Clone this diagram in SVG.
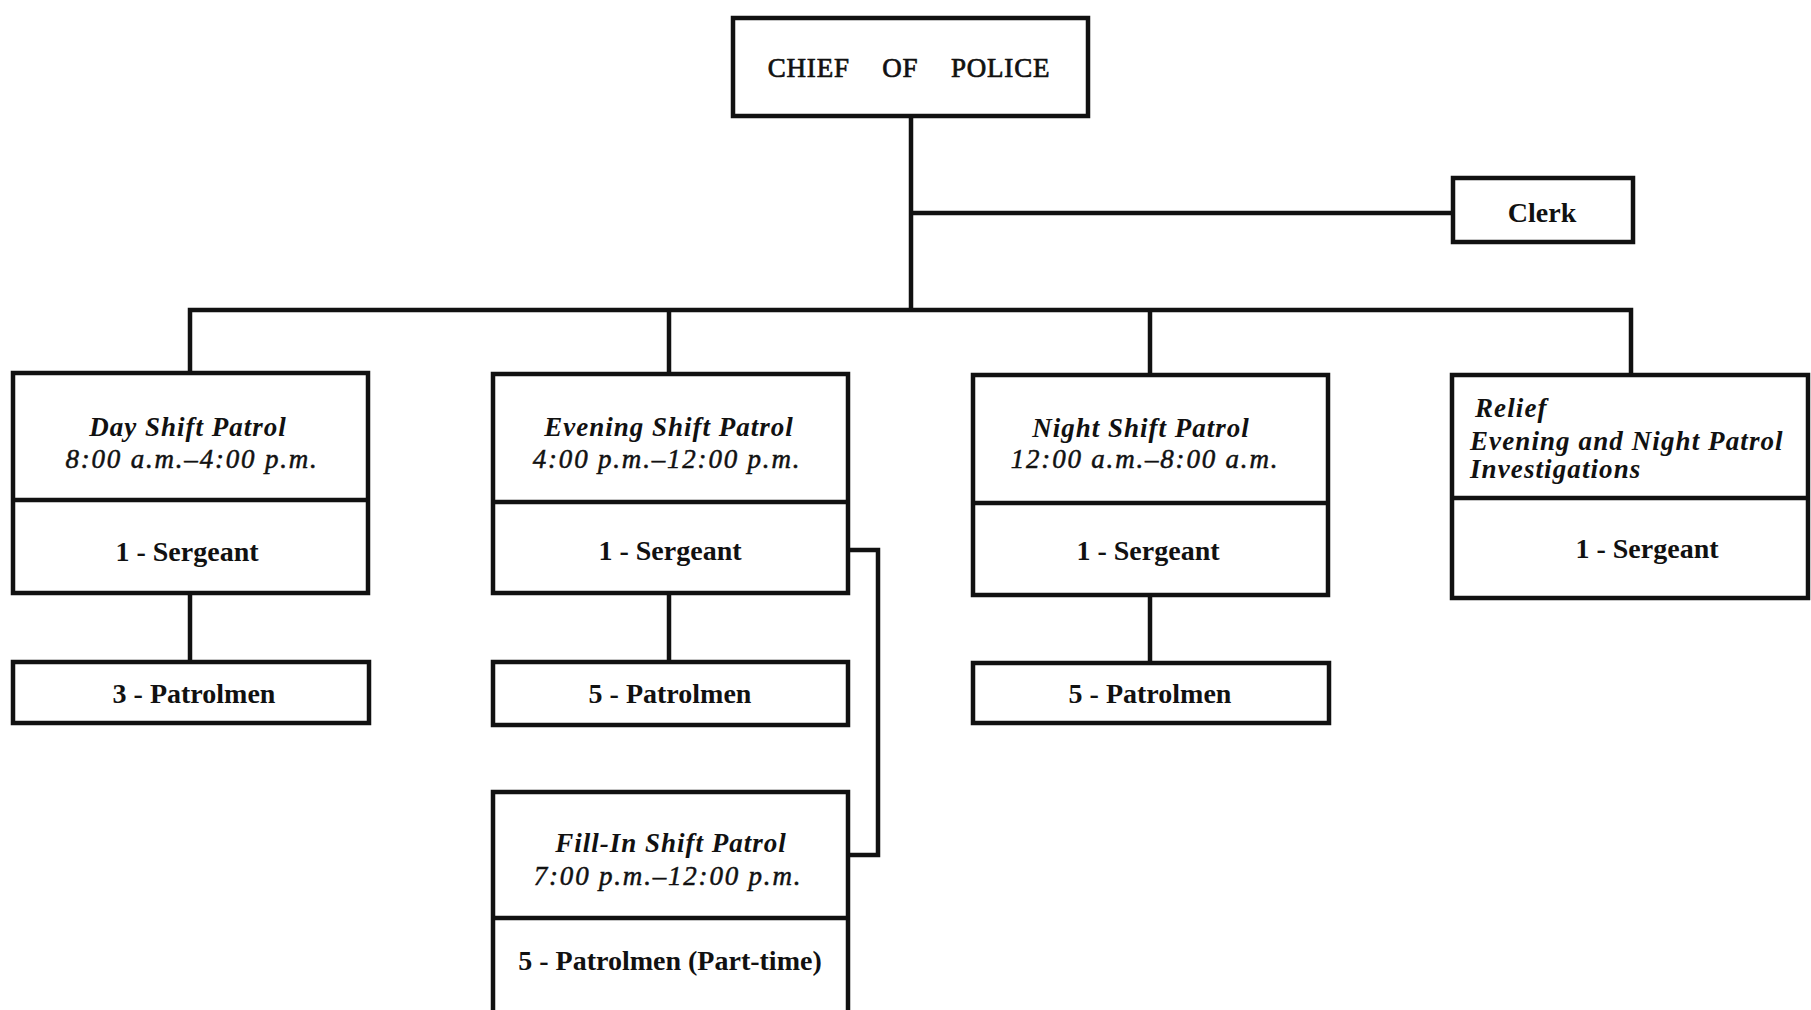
<svg xmlns="http://www.w3.org/2000/svg" width="1811" height="1010" viewBox="0 0 1811 1010">
<style>
.box{fill:#fff;stroke:#111;stroke-width:4.5}
.div{stroke:#111;stroke-width:4.5}
.con{fill:none;stroke:#111;stroke-width:4.5}
.b{font-family:"Liberation Serif",serif;font-weight:bold;font-size:28px;fill:#111;text-anchor:middle}
.i{font-family:"Liberation Serif",serif;font-weight:bold;font-style:italic;font-size:27px;fill:#111;text-anchor:middle;letter-spacing:1px}
.r{font-family:"Liberation Serif",serif;font-weight:bold;font-style:italic;font-size:27px;fill:#111;text-anchor:start;letter-spacing:1.1px}
.t{font-family:"Liberation Serif",serif;font-style:italic;font-size:27px;fill:#111;stroke:#111;stroke-width:0.5;text-anchor:middle;letter-spacing:1.8px}
.c{font-family:"Liberation Serif",serif;font-size:27px;fill:#111;stroke:#111;stroke-width:0.7;text-anchor:middle;word-spacing:25px;letter-spacing:0.8px}
</style>
<rect width="1811" height="1010" fill="#fff"/>
<g id="connectors">
<path class="con" d="M911,116 V310"/>
<path class="con" d="M911,213 H1453"/>
<path class="con" d="M190,374 V310 H1631 V375"/>
<path class="con" d="M669,310 V374"/>
<path class="con" d="M1150,310 V375"/>
<path class="con" d="M190,593 V662"/>
<path class="con" d="M669,593 V662"/>
<path class="con" d="M1150,595 V663"/>
<path class="con" d="M848,550 H878 V855 H848"/>
</g>
<g id="chief">
<rect class="box" x="733" y="18" width="355" height="98"/>
<text class="c" x="909" y="77">CHIEF OF POLICE</text>
</g>
<g id="clerk">
<rect class="box" x="1453" y="178" width="180" height="64"/>
<text class="b" x="1542" y="222">Clerk</text>
</g>
<g id="day">
<rect class="box" x="13" y="373" width="355" height="220"/>
<line class="div" x1="13" y1="500" x2="368" y2="500"/>
<text class="i" x="188" y="436">Day Shift Patrol</text>
<text class="t" x="192" y="468">8:00 a.m.–4:00 p.m.</text>
<text class="b" x="187" y="561">1 - Sergeant</text>
</g>
<g id="day-patrolmen">
<rect class="box" x="13" y="662" width="356" height="61"/>
<text class="b" x="194" y="703">3 - Patrolmen</text>
</g>
<g id="evening">
<rect class="box" x="493" y="374" width="355" height="219"/>
<line class="div" x1="493" y1="502" x2="848" y2="502"/>
<text class="i" x="669" y="436">Evening Shift Patrol</text>
<text class="t" x="667" y="468">4:00 p.m.–12:00 p.m.</text>
<text class="b" x="670" y="560">1 - Sergeant</text>
</g>
<g id="evening-patrolmen">
<rect class="box" x="493" y="662" width="355" height="63"/>
<text class="b" x="670" y="703">5 - Patrolmen</text>
</g>
<g id="night">
<rect class="box" x="973" y="375" width="355" height="220"/>
<line class="div" x1="973" y1="503" x2="1328" y2="503"/>
<text class="i" x="1141" y="437">Night Shift Patrol</text>
<text class="t" x="1145" y="468">12:00 a.m.–8:00 a.m.</text>
<text class="b" x="1148" y="560">1 - Sergeant</text>
</g>
<g id="night-patrolmen">
<rect class="box" x="973" y="663" width="356" height="60"/>
<text class="b" x="1150" y="703">5 - Patrolmen</text>
</g>
<g id="relief">
<rect class="box" x="1452" y="375" width="356" height="223"/>
<line class="div" x1="1452" y1="498" x2="1808" y2="498"/>
<text class="r" x="1475" y="417">Relief</text>
<text class="r" x="1470" y="450">Evening and Night Patrol</text>
<text class="r" x="1470" y="478">Investigations</text>
<text class="b" x="1647" y="558">1 - Sergeant</text>
</g>
<g id="fillin">
<rect class="box" x="493" y="792" width="355" height="225"/>
<line class="div" x1="493" y1="918" x2="848" y2="918"/>
<text class="i" x="671" y="852">Fill-In Shift Patrol</text>
<text class="t" x="668" y="885">7:00 p.m.–12:00 p.m.</text>
<text class="b" x="670" y="970">5 - Patrolmen (Part-time)</text>
</g>
</svg>
